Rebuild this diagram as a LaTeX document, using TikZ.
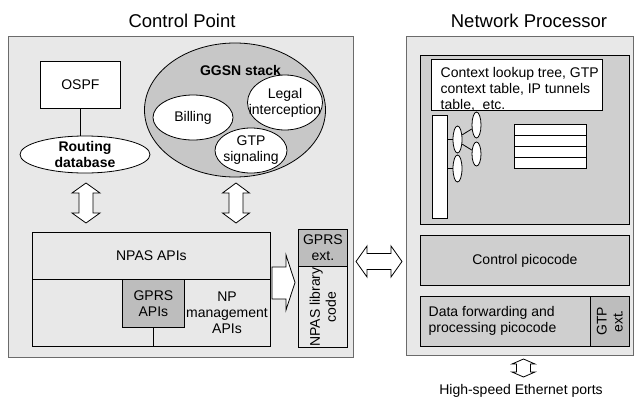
\documentclass[tikz,border=0pt]{standalone}
\usepackage{fontspec}
\setmainfont{Liberation Sans}
\usetikzlibrary{shapes.geometric}
\definecolor{bglight}{gray}{0.91}
\definecolor{ggsnfill}{gray}{0.78}
\definecolor{darkbox}{gray}{0.74}
\definecolor{npbox}{gray}{0.81}
\definecolor{framegray}{gray}{0.42}
\tikzset{
  body/.style={font=\fontsize{14}{16}\selectfont, inner sep=0pt},
  boldbody/.style={font=\fontsize{14}{16}\selectfont\bfseries, inner sep=0pt},
  titletext/.style={font=\fontsize{18.5}{22}\selectfont, inner sep=0pt},
  outerbox/.style={draw=framegray, line width=1.3pt, fill=bglight, inner sep=0pt},
  plainbox/.style={draw=black, line width=0.8pt, inner sep=0pt, align=center},
  oval/.style={ellipse, draw=black, line width=0.8pt, fill=white, inner sep=0pt},
  hollow/.style={draw=black, line width=0.8pt, fill=white, line join=miter},
}
% vertical double arrow: cx, ytop, ybottom, shaft half, head half, head length
\newcommand\myvdarrow[6]{\draw[hollow] (#1,#2) -- (#1+#5,#2+#6) -- (#1+#4,#2+#6) -- (#1+#4,#3-#6) -- (#1+#5,#3-#6) -- (#1,#3) -- (#1-#5,#3-#6) -- (#1-#4,#3-#6) -- (#1-#4,#2+#6) -- (#1-#5,#2+#6) -- cycle;}
% horizontal double arrow: cy, xleft, xright, shaft half, head half, head length
\newcommand\myhdarrow[6]{\draw[hollow] (#2,#1) -- (#2+#6,#1-#5) -- (#2+#6,#1-#4) -- (#3-#6,#1-#4) -- (#3-#6,#1-#5) -- (#3,#1) -- (#3-#6,#1+#5) -- (#3-#6,#1+#4) -- (#2+#6,#1+#4) -- (#2+#6,#1+#5) -- cycle;}
\newcommand\mybox[6]{\node[#1, anchor=north west, minimum width=#4-#2, minimum height=#5-#3] (#6) at (#2,#3) {};}
\begin{document}
\begin{tikzpicture}[x=1pt,y=-1pt]
\useasboundingbox[fill=white] (0,0) rectangle (634,399);

% titles
\node[titletext, anchor=base] (cptitle) at (182,27) {Control Point};
\node[titletext, anchor=base] (nptitle) at (529,27) {Network Processor};

% ---------- Control Point ----------
\mybox{outerbox}{8}{36}{353}{357}{cpouter}

\mybox{plainbox, fill=white}{40}{61}{120}{108}{ospf}
\node[body] at (ospf) {OSPF};
\node[oval, minimum width=130, minimum height=37] (routing) at (85,154.5) {};
\node[boldbody, align=center] at (routing) {Routing\\database};
\draw[line width=0.8pt] (ospf.south) -- (ospf.south |- routing.north);

\node[ellipse, draw=black, line width=0.8pt, fill=ggsnfill, minimum width=181, minimum height=134, inner sep=0pt] (ggsn) at (235,110) {};
\node[boldbody] (ggsnlabel) at (240.5,70) {GGSN stack};
\node[oval, minimum width=80, minimum height=45] (billing) at (193,117.5) {};
\node[body] at (billing) {Billing};
\node[oval, minimum width=75, minimum height=55] (legal) at (285,102.5) {};
\node[body, align=center] at (legal) {Legal\\interception};
\node[oval, minimum width=72, minimum height=45] (gtpsig) at (251,150.5) {};
\node[body, align=center] at (gtpsig) {GTP\\signaling};

\myvdarrow{86}{183}{223}{7}{14}{10}
\myvdarrow{236}{183}{223}{7}{13.5}{10}

\mybox{plainbox, fill=bglight}{32}{232}{270}{279}{npasapis}
\node[body] at (npasapis) {NPAS APIs};
\mybox{plainbox, fill=bglight}{32}{279}{270}{346}{npaslower}
\mybox{plainbox, fill=darkbox}{122}{279}{184}{327}{gprsapis}
\node[body, align=center] at (gprsapis) {GPRS\\APIs};
\draw[line width=0.8pt] (gprsapis.south) -- (gprsapis.south |- npaslower.south);
\node[body, align=center] (npmgmt) at (227,313) {NP\\management\\APIs};

\draw[hollow] (272,267) -- (286,267) -- (286,255) -- (295,282.5) -- (286,310) -- (286,299) -- (272,299) -- cycle;

\mybox{plainbox, fill=darkbox}{298}{229}{347}{266}{gprsext}
\node[body, align=center] at (gprsext) {GPRS\\ext.};
\mybox{plainbox, fill=bglight}{298}{266}{347}{347}{libcode}
\node[body, align=center, rotate=90] at (libcode) {NPAS library\\code};

% connection between the two
\myhdarrow{261.5}{356}{402}{8}{15.5}{11}

% ---------- Network Processor ----------
\mybox{outerbox}{406}{36}{633}{355}{npouter}
\mybox{plainbox, fill=npbox}{420}{55}{629}{224}{nptop}
\mybox{plainbox, fill=white}{431}{59}{602}{110}{ctxbox}
\node[body, align=left, anchor=north west] (ctxtext) at (440.5,67) {Context lookup tree, GTP\\context table, IP tunnels\\table,~ etc.};

\mybox{plainbox, fill=white}{432}{115}{447}{218}{bar}
\node[oval, minimum width=9, minimum height=27] (e1) at (457.5,139.5) {};
\node[oval, minimum width=9, minimum height=26] (e2) at (476.5,125) {};
\node[oval, minimum width=9, minimum height=24] (e3) at (476.5,154) {};
\node[oval, minimum width=9, minimum height=27] (e4) at (457.5,168.5) {};
\draw[line width=0.8pt] (bar.east |- e1.west) -- (e1.west);
\draw[line width=0.8pt] (bar.east |- e4.west) -- (e4.west);
\draw[line width=0.8pt] (e1.45) -- (e2.220);
\draw[line width=0.8pt] (e1.-45) -- (e3.140);

\mybox{plainbox, fill=white}{514}{124}{586}{135}{row1}
\mybox{plainbox, fill=white}{514}{135}{586}{146}{row2}
\mybox{plainbox, fill=white}{514}{146}{586}{157}{row3}
\mybox{plainbox, fill=white}{514}{157}{586}{168}{row4}

\mybox{plainbox, fill=npbox}{420}{235}{629}{285}{ctrlpico}
\node[body] at (ctrlpico) {Control picocode};
\mybox{plainbox, fill=npbox}{420}{296}{590}{346}{datapico}
\node[body, align=left, anchor=west] at (428.5,320.5) {Data forwarding and\\processing picocode};
\mybox{plainbox, fill=darkbox}{590}{296}{629}{346}{gtpext}
\node[body, align=center, rotate=90] at (gtpext) {GTP\\ext.};

\myvdarrow{523.5}{359}{377}{7}{11.5}{5}
\node[body, anchor=base] (ports) at (521,394) {High-speed Ethernet ports};
\end{tikzpicture}
\end{document}
